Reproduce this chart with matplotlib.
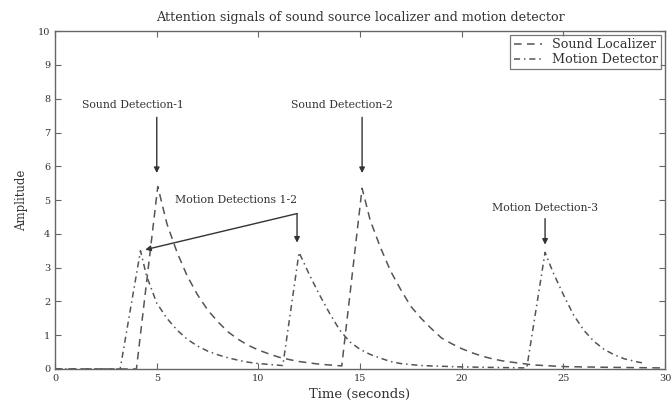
import numpy as np
import matplotlib
matplotlib.use('Agg')
import matplotlib.pyplot as plt

plt.rcParams['font.family'] = ['DejaVu Serif']

# sound source localizer attention signal
sound_t = [0, 4.0, 5.05, 5.5, 6.0, 6.5, 7.0, 7.5, 8.0, 8.5, 9.0, 9.5, 10.0, 10.5, 11.0,
           11.5, 12.0, 13.0, 14.1, 15.1, 15.5, 16.0, 16.5, 17.0, 17.5, 18.0, 18.5, 19.0,
           19.5, 20.0, 20.5, 21.0, 21.5, 22.0, 22.6, 23.5, 25.0, 27.0, 30.0]
sound_a = [0, 0, 5.4, 4.3, 3.45, 2.75, 2.2, 1.75, 1.4, 1.1, 0.88, 0.7, 0.56, 0.45, 0.35,
           0.28, 0.22, 0.14, 0.09, 5.35, 4.4, 3.6, 2.9, 2.35, 1.85, 1.5, 1.2, 0.92,
           0.75, 0.6, 0.48, 0.38, 0.3, 0.24, 0.19, 0.12, 0.07, 0.05, 0.03]

# motion detector attention signal
motion_t = [0, 3.2, 4.2, 4.5, 5.0, 5.5, 6.0, 6.5, 7.0, 7.5, 8.0, 8.5, 9.0, 9.5, 10.0,
            11.2, 12.0, 12.5, 13.0, 13.5, 14.0, 14.5, 15.0, 15.5, 16.0, 16.5, 17.0, 18.0,
            20.0, 23.2, 24.1, 24.5, 25.0, 25.5, 26.0, 26.5, 27.0, 27.5, 28.0, 28.7, 29.0]
motion_a = [0, 0, 3.5, 2.75, 1.95, 1.5, 1.15, 0.88, 0.68, 0.53, 0.42, 0.33, 0.26, 0.2, 0.16,
            0.1, 3.45, 2.8, 2.2, 1.65, 1.15, 0.8, 0.58, 0.43, 0.32, 0.22, 0.16, 0.1,
            0.06, 0.03, 3.45, 2.85, 2.2, 1.6, 1.15, 0.82, 0.58, 0.42, 0.3, 0.2, 0.17]

line_col = '#555555'
txt_col = '#333333'

fig = plt.figure(figsize=(6.72, 4.05), dpi=100)
ax = fig.add_axes([0.082, 0.089, 0.9076, 0.834])

ax.plot(sound_t, sound_a, color=line_col, lw=1.1, dashes=(5, 3.5), label='Sound Localizer')
ax.plot(motion_t, motion_a, color=line_col, lw=1.1, dashes=(4, 2.5, 1, 2.5), label='Motion Detector')

ax.set_xlim(0, 30)
ax.set_ylim(0, 10)
ax.set_xticks(range(0, 31, 5))
ax.set_yticks(range(0, 11))
ax.tick_params(direction='in', top=True, right=True, length=4, width=0.8,
               labelsize=7, colors='#666666', labelcolor=txt_col)
for s in ax.spines.values():
    s.set_color('#666666')
    s.set_linewidth(1.0)

ax.set_title('Attention signals of sound source localizer and motion detector',
             fontsize=9.2, color=txt_col, pad=7)
ax.set_xlabel('Time (seconds)', fontsize=9.5, color=txt_col, labelpad=4)
ax.set_ylabel('Amplitude', fontsize=8.5, color=txt_col, labelpad=7)

leg = ax.legend(loc='upper right', fontsize=9.2, frameon=True, fancybox=False,
                handlelength=2.2, borderpad=0.25, labelspacing=0.15,
                borderaxespad=0.3, edgecolor='#555555')
leg.get_frame().set_linewidth(0.9)
for t in leg.get_texts():
    t.set_color(txt_col)

arrow = dict(arrowstyle='-|>', color='#333333', lw=1.0, mutation_scale=8, shrinkA=0, shrinkB=0)
font = dict(fontsize=7.8, color=txt_col, ha='center', va='center')

ax.text(3.85, 7.8, 'Sound Detection-1', **font)
ax.annotate('', xy=(5.0, 5.8), xytext=(5.0, 7.45), arrowprops=arrow)

ax.text(14.1, 7.8, 'Sound Detection-2', **font)
ax.annotate('', xy=(15.1, 5.8), xytext=(15.1, 7.45), arrowprops=arrow)

ax.text(8.9, 5.0, 'Motion Detections 1-2', **font)
ax.annotate('', xy=(4.43, 3.53), xytext=(11.9, 4.6), arrowprops=arrow)
ax.annotate('', xy=(11.9, 3.74), xytext=(11.9, 4.6), arrowprops=arrow)

ax.text(24.1, 4.78, 'Motion Detection-3', **font)
ax.annotate('', xy=(24.1, 3.68), xytext=(24.1, 4.45), arrowprops=arrow)

fig.savefig('out.png', dpi=100)
